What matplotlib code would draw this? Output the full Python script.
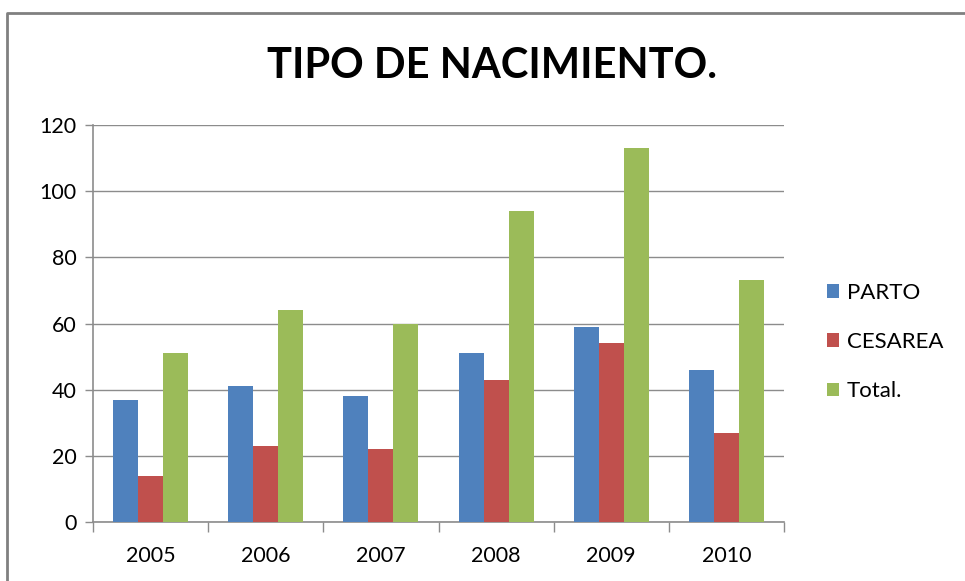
import numpy as np
import matplotlib.pyplot as plt
from matplotlib.lines import Line2D
from matplotlib.patches import Patch

# Datos
anios = ['2005', '2006', '2007', '2008', '2009', '2010']
parto = [37, 41, 38, 51, 59, 46]
cesarea = [14, 23, 22, 43, 54, 27]
total = [51, 64, 60, 94, 113, 73]

series = ['PARTO', 'CESAREA', 'Total.']
colores = ['#4F81BD', '#C0504D', '#9BBB59']

plt.rcParams['font.family'] = ['Lato', 'DejaVu Sans']

fig = plt.figure(figsize=(9.65, 5.81), dpi=100)
ax = fig.add_axes([93 / 965, 1 - 522 / 581, (784 - 93) / 965, (522 - 125) / 581])

x = np.arange(len(anios))
ancho = 1 / 4.6  # gap width ~150%
for i, (vals, col) in enumerate(zip([parto, cesarea, total], colores)):
    ax.bar(x + (i - 1) * ancho, vals, width=ancho, color=col,
           edgecolor='none', zorder=3, label=series[i])

gris = '#8c8c8c'
ax.set_ylim(0, 120)
ax.set_yticks(np.arange(0, 121, 20))
ax.set_xlim(-0.5, len(anios) - 0.5)
ax.set_xticks(x)
ax.set_xticklabels(anios)
ax.set_xticks(np.arange(-0.5, len(anios)), minor=True)

ax.grid(axis='y', color=gris, linewidth=1, zorder=0)
for s in ['top', 'right']:
    ax.spines[s].set_visible(False)
for s in ['left', 'bottom']:
    ax.spines[s].set_color(gris)
    ax.spines[s].set_linewidth(1.2)

ax.tick_params(axis='y', length=6, color=gris, width=1, pad=6, labelsize=15.5)
ax.tick_params(axis='x', which='major', length=0, pad=17, labelsize=15.5)
ax.tick_params(axis='x', which='minor', length=7.5, color=gris, width=1)

fig.text(492 / 965, 1 - 66 / 581, 'TIPO DE NACIMIENTO.', ha='center', va='center',
         fontsize=30, fontweight='bold')

handles = [Patch(facecolor=c, edgecolor='none') for c in colores]
fig.legend(handles, series, loc='center left',
           bbox_to_anchor=(827 / 965, 1 - 342 / 581), frameon=False,
           fontsize=16, handlelength=0.55, handleheight=0.55,
           handletextpad=0.35, labelspacing=1.32, borderpad=0, borderaxespad=0)

# Borde exterior del gráfico (recortado a la derecha y abajo)
fig.add_artist(Line2D([7 / 965, 7 / 965, 1], [0, 1 - 13 / 581, 1 - 13 / 581],
                      transform=fig.transFigure, color='#808080', linewidth=2))

fig.savefig('out.png', dpi=100)
